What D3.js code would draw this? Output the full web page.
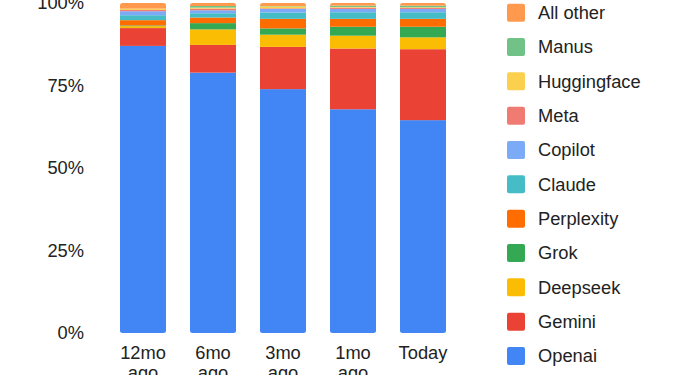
<!DOCTYPE html>
<html>
<head>
<meta charset="utf-8">
<script src="https://cdn.jsdelivr.net/npm/d3@7"></script>
<style>
  body { margin: 0; background: #fff; }
  svg { display: block; font-family: "Liberation Sans", Arial, sans-serif; }
</style>
</head>
<body>
<script>
// periods along the x axis (two-line labels split on \n)
const periods = ['12mo\nago', '6mo\nago', '3mo\nago', '1mo\nago', 'Today'];

// stacking order, bottom to top
const series = ['Openai', 'Gemini', 'Deepseek', 'Grok', 'Perplexity', 'Claude', 'Copilot', 'Meta', 'Huggingface', 'Manus', 'All other'];
const colors = ['#4285F4', '#EA4335', '#FBBC04', '#34A853', '#FF6D01', '#46BDC6', '#7BAAF7', '#F07B72', '#FCD04F', '#71C287', '#FF994D'];

// share (%) per period
const openai      = [87.0, 78.9, 73.9, 67.8, 64.5];
const gemini      = [5.4, 8.4, 12.8, 18.4, 21.5];
const deepseek    = [0.6, 4.7, 3.7, 3.9, 3.6];
const grok        = [0.2, 1.9, 1.9, 2.7, 3.2];
const perplexity  = [1.6, 1.7, 2.9, 2.4, 2.4];
const claude      = [1.5, 1.3, 1.9, 2.0, 2.0];
const copilot     = [1.2, 0.9, 1.1, 1.0, 1.0];
const meta        = [0.4, 0.5, 0.2, 0.4, 0.3];
const huggingface = [0.4, 0.3, 0.6, 0.2, 0.2];
const manus       = [0.0, 0.5, 0.1, 0.4, 0.5];
const allOther    = [1.7, 0.9, 0.9, 0.8, 0.8];

const yTicks = [0, 25, 50, 75, 100];

const values = [openai, gemini, deepseek, grok, perplexity, claude, copilot, meta, huggingface, manus, allOther];
const rows = periods.map((p, i) => {
  const row = { period: p };
  series.forEach((s, k) => { row[s] = values[k][i]; });
  return row;
});

const width = 680, height = 375;
const fontSize = 18.3;

const svg = d3.select('body').append('svg')
  .attr('width', width)
  .attr('height', height);

const xScale = d3.scaleBand()
  .domain(periods)
  .range([108, 458])
  .paddingInner(0.343)
  .paddingOuter(0.1715);

const yScale = d3.scaleLinear()
  .domain([0, 100])
  .range([333, 3]);

const color = d3.scaleOrdinal().domain(series).range(colors);

const stacked = d3.stack().keys(series)(rows);

// rounded clip per bar
const defs = svg.append('defs');
periods.forEach((p, i) => {
  defs.append('clipPath')
    .attr('id', 'clip' + i)
    .append('rect')
    .attr('x', xScale(p))
    .attr('y', yScale(100))
    .attr('width', xScale.bandwidth())
    .attr('height', yScale(0) - yScale(100))
    .attr('rx', 2.5);
});

const bars = svg.append('g').attr('class', 'bars');
periods.forEach((p, i) => {
  const g = bars.append('g').attr('clip-path', 'url(#clip' + i + ')');
  g.selectAll('rect')
    .data(stacked.map((layer) => ({ key: layer.key, d: layer[i] })))
    .enter()
    .append('rect')
    .attr('x', xScale(p))
    .attr('y', (s) => yScale(s.d[1]))
    .attr('width', xScale.bandwidth())
    .attr('height', (s) => Math.max(0, yScale(s.d[0]) - yScale(s.d[1])))
    .attr('fill', (s) => color(s.key));
});

// y axis
const yAxis = d3.axisLeft(yScale)
  .tickValues(yTicks)
  .tickFormat((d) => d + '%')
  .tickSize(0)
  .tickPadding(0);

svg.append('g')
  .attr('class', 'y-axis')
  .attr('transform', 'translate(84,0)')
  .call(yAxis)
  .call((g) => g.select('.domain').remove())
  .selectAll('text')
  .attr('font-size', fontSize)
  .attr('fill', '#222')
  .attr('font-family', '"Liberation Sans", Arial, sans-serif');

// x axis
const xAxis = d3.axisBottom(xScale).tickSize(0).tickPadding(0);
const xg = svg.append('g')
  .attr('class', 'x-axis')
  .attr('transform', 'translate(0,' + 333 + ')')
  .call(xAxis);
xg.select('.domain').remove();
xg.selectAll('text')
  .attr('font-size', fontSize)
  .attr('fill', '#222')
  .attr('font-family', '"Liberation Sans", Arial, sans-serif')
  .attr('y', 0)
  .attr('dy', null)
  .each(function (d) {
    const t = d3.select(this);
    const lines = d.split('\n');
    t.text(null);
    lines.forEach((line, k) => {
      t.append('tspan')
        .attr('x', 0)
        .attr('y', 26 + k * 20)
        .text(line);
    });
  });

// legend, top to bottom in reverse stacking order
const legendItems = series.slice().reverse();
const legendY = d3.scalePoint()
  .domain(legendItems)
  .range([12.7, 356]);

const legend = svg.append('g').attr('class', 'legend');
const item = legend.selectAll('g')
  .data(legendItems)
  .enter()
  .append('g')
  .attr('transform', (d) => 'translate(507,' + legendY(d) + ')');

item.append('rect')
  .attr('x', 0)
  .attr('y', -9)
  .attr('width', 18)
  .attr('height', 18)
  .attr('rx', 2)
  .attr('fill', (d) => color(d));

item.append('text')
  .attr('x', 31)
  .attr('y', 0)
  .attr('dy', '0.35em')
  .attr('font-size', fontSize)
  .attr('fill', '#222')
  .text((d) => d);
</script>
</body>
</html>
